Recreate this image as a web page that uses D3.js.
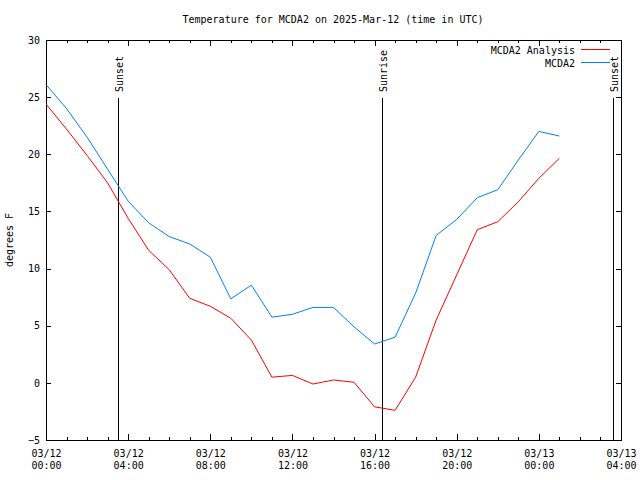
<!DOCTYPE html>
<html>
<head>
<meta charset="utf-8">
<script src="https://cdn.jsdelivr.net/npm/d3@7"></script>
<style>
  html, body { margin: 0; padding: 0; background: #fff; }
  svg { display: block; }
  text { font-family: "DejaVu Sans Mono", monospace; font-size: 10px; fill: #000; }
</style>
</head>
<body>
<svg id="chart" width="640" height="480"></svg>
<script>
// ---------- data ----------
const startTime = "2025-03-12T00:00:00Z";
const hourOffsets = [0,1,2,3,4,5,6,7,8,9,10,11,12,13,14,15,16,17,18,19,20,21,22,23,24,25];
const analysisValues = [24.4,22.2,19.9,17.5,14.4,11.6,9.9,7.4,6.7,5.65,3.75,0.5,0.65,-0.1,0.25,0.05,-2.1,-2.4,0.5,5.5,9.45,13.4,14.1,15.85,17.9,19.65];
const stationValues  = [26.1,24.0,21.5,18.7,15.9,14.0,12.8,12.15,11.0,7.35,8.55,5.75,6.0,6.6,6.6,4.9,3.4,4.0,7.85,12.9,14.3,16.2,16.9,19.5,22.0,21.6];
const seriesNames = ["MCDA2 Analysis", "MCDA2"];
const seriesColors = ["#ff0000", "#0080ff"];
const sunEvents = [
  {label: "Sunset",  time: "2025-03-12T03:30:00Z"},
  {label: "Sunrise", time: "2025-03-12T16:22:00Z"},
  {label: "Sunset",  time: "2025-03-13T03:37:00Z"}
];
const xDomain = ["2025-03-12T00:00:00Z", "2025-03-13T04:00:00Z"];
const yDomain = [-5, 30];
const yTicks = [-5, 0, 5, 10, 15, 20, 25, 30];
const titleText = "Temperature for MCDA2 on 2025-Mar-12 (time in UTC)";
const yLabel = "degrees F";

// ---------- layout ----------
const margin = {left: 46, right: 19, top: 40, bottom: 40};
const W = 640, H = 480;
const svg = d3.select("#chart");
const pw = W - margin.left - margin.right;
const ph = H - margin.top - margin.bottom;

const t0 = new Date(startTime);
const times = hourOffsets.map(h => new Date(t0.getTime() + h * 3600e3));

const x = d3.scaleUtc().domain(xDomain.map(d => new Date(d))).range([margin.left, margin.left + pw]);
const y = d3.scaleLinear().domain(yDomain).range([margin.top + ph, margin.top]);

const majorTicks = d3.utcHour.every(4).range(new Date(xDomain[0]), new Date(new Date(xDomain[1]).getTime() + 1));
const minorTicks = d3.utcHour.every(1).range(new Date(xDomain[0]), new Date(new Date(xDomain[1]).getTime() + 1));
const fmt1 = d3.utcFormat("%m/%d");
const fmt2 = d3.utcFormat("%H:%M");

// bottom axis (major, with labels)
const gxb = svg.append("g").attr("transform", `translate(0,${margin.top + ph})`)
  .call(d3.axisBottom(x).tickValues(majorTicks).tickSize(-6).tickPadding(10).tickFormat(d => fmt1(d)));
gxb.select(".domain").remove();
gxb.selectAll(".tick text").each(function(d) {
  const t = d3.select(this);
  t.text(null).attr("font-family", null).attr("font-size", null);
  t.append("tspan").attr("x", 0).attr("dy", "0.71em").text(fmt1(d));
  t.append("tspan").attr("x", 0).attr("dy", "1.2em").text(fmt2(d));
});
// bottom minor
const gxbm = svg.append("g").attr("transform", `translate(0,${margin.top + ph})`)
  .call(d3.axisBottom(x).tickValues(minorTicks).tickSize(-3).tickFormat(""));
gxbm.select(".domain").remove();
// top ticks
const gxt = svg.append("g").attr("transform", `translate(0,${margin.top})`)
  .call(d3.axisTop(x).tickValues(majorTicks).tickSize(-6).tickFormat(""));
gxt.select(".domain").remove();
const gxtm = svg.append("g").attr("transform", `translate(0,${margin.top})`)
  .call(d3.axisTop(x).tickValues(minorTicks).tickSize(-3).tickFormat(""));
gxtm.select(".domain").remove();

// left axis
const gyl = svg.append("g").attr("transform", `translate(${margin.left},0)`)
  .call(d3.axisLeft(y).tickValues(yTicks).tickSize(-5).tickPadding(6).tickFormat(d3.format("d")));
gyl.select(".domain").remove();
gyl.selectAll(".tick text").attr("font-family", null).attr("font-size", null);
// right axis
const gyr = svg.append("g").attr("transform", `translate(${margin.left + pw},0)`)
  .call(d3.axisRight(y).tickValues(yTicks).tickSize(-5).tickFormat(""));
gyr.select(".domain").remove();

svg.selectAll(".tick line").attr("stroke", "#000").attr("shape-rendering", "crispEdges");

// frame
svg.append("rect").attr("x", margin.left + 0.5).attr("y", margin.top + 0.5)
  .attr("width", pw).attr("height", ph)
  .attr("fill", "none").attr("stroke", "#000").attr("shape-rendering", "crispEdges");

// sun event lines
sunEvents.forEach(ev => {
  const xx = Math.round(x(new Date(ev.time))) + 0.5;
  svg.append("line").attr("x1", xx).attr("x2", xx).attr("y1", 98).attr("y2", margin.top + ph)
    .attr("stroke", "#000").attr("shape-rendering", "crispEdges");
  svg.append("text").attr("transform", `translate(${xx + 4},92) rotate(-90)`)
    .attr("text-anchor", "start").text(ev.label);
});

// series lines
const line = d3.line().x((d, i) => x(times[i])).y(d => y(d));
[analysisValues, stationValues].forEach((vals, k) => {
  svg.append("path").datum(vals).attr("d", line)
    .attr("fill", "none").attr("stroke", seriesColors[k]).attr("stroke-width", 1);
});

// legend
seriesNames.forEach((name, k) => {
  const ly = 50 + k * 13;
  svg.append("text").attr("x", 575).attr("y", ly).attr("dy", "0.35em").attr("text-anchor", "end").text(name);
  svg.append("line").attr("x1", 581).attr("x2", 610).attr("y1", ly - 0.5).attr("y2", ly - 0.5)
    .attr("stroke", seriesColors[k]).attr("shape-rendering", "crispEdges");
});

// title
svg.append("text").attr("x", 333).attr("y", 19).attr("dy", "0.35em").attr("text-anchor", "middle").text(titleText);

// y label
svg.append("text").attr("transform", `translate(13,${margin.top + ph / 2}) rotate(-90)`)
  .attr("text-anchor", "middle").text(yLabel);
</script>
</body>
</html>
